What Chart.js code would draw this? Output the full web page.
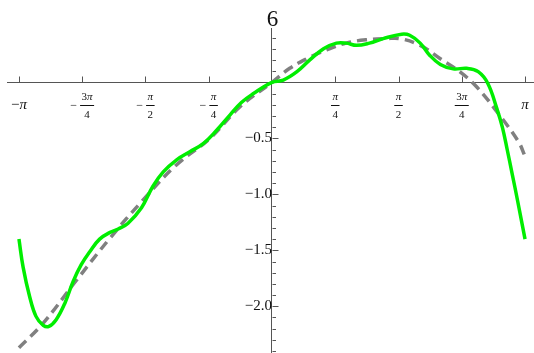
<!DOCTYPE html>
<html><head><meta charset="utf-8">
<script src="https://cdn.jsdelivr.net/npm/chart.js@4/dist/chart.umd.min.js"></script>
<style>html,body{margin:0;padding:0;background:#fff}#c{display:block}</style>
</head><body>
<canvas id="c" width="534" height="353"></canvas>
<script>
// ---- data ----
const greenX = [-3.1416, -3.09, -3.01, -2.93, -2.84, -2.77, -2.68, -2.57, -2.47, -2.37, -2.26, -2.14, -2.01, -1.91, -1.79, -1.62, -1.48, -1.35, -1.18, -1.02, -0.85, -0.69, -0.52, -0.38, -0.23, 0, 0.14, 0.31, 0.47, 0.64, 0.80, 0.92, 1.05, 1.21, 1.38, 1.61, 1.71, 1.84, 1.96, 2.09, 2.25, 2.42, 2.56, 2.68, 2.79, 2.86, 2.92, 2.98, 3.05, 3.1416];
const greenY = [-1.40, -1.65, -1.91, -2.09, -2.17, -2.18, -2.12, -1.97, -1.78, -1.63, -1.51, -1.40, -1.34, -1.31, -1.26, -1.12, -0.93, -0.80, -0.69, -0.62, -0.545, -0.43, -0.29, -0.18, -0.10, 0, 0.02, 0.095, 0.20, 0.30, 0.35, 0.35, 0.33, 0.35, 0.39, 0.43, 0.42, 0.35, 0.24, 0.16, 0.12, 0.125, 0.095, -0.01, -0.23, -0.40, -0.60, -0.81, -1.06, -1.40];
const dashX = [-3.1416, -2.84, -2.43, -2.01, -1.60, -1.19, -0.77, -0.40, 0, 0.22, 0.43, 0.68, 0.92, 1.17, 1.42, 1.59, 1.84, 2.09, 2.33, 2.54, 2.79, 3.06, 3.1416];
const dashY = [-2.37, -2.15, -1.77, -1.39, -1.05, -0.74, -0.50, -0.22, 0, 0.125, 0.21, 0.29, 0.35, 0.38, 0.39, 0.39, 0.33, 0.21, 0.095, -0.04, -0.26, -0.53, -0.66];

// x ticks as multiples of pi, with fraction labels
const xTickMultiples = [-1, -0.75, -0.5, -0.25, 0.25, 0.5, 0.75, 1];
const xTickLabels = [
  {sign: '−', num: '', den: ''}, {sign: '−', num: '3', den: '4'}, {sign: '−', num: '', den: '2'}, {sign: '−', num: '', den: '4'},
  {sign: '', num: '', den: '4'}, {sign: '', num: '', den: '2'}, {sign: '', num: '3', den: '4'}, {sign: '', num: '', den: ''}
];
const yTickValues = [-2.0, -1.5, -1.0, -0.5];
const yTickLabels = ['−2.0', '−1.5', '−1.0', '−0.5'];
const yMinorValues = [-2.4, -2.3, -2.2, -2.1, -1.9, -1.8, -1.7, -1.6, -1.4, -1.3, -1.2, -1.1, -0.9, -0.8, -0.7, -0.6, -0.4, -0.3, -0.2, -0.1, 0.1, 0.2, 0.3, 0.4];
const plotLabel = '6';

const SERIF = '"Liberation Serif", "DejaVu Serif", serif';
const AXIS = '#555';
const TEXT = '#111';

function drawPi(ctx, pre, x, base, size, align) {
  // draws pre (upright) followed by italic π
  ctx.font = size + 'px ' + SERIF;
  const w1 = ctx.measureText(pre).width;
  ctx.font = 'italic ' + size + 'px ' + SERIF;
  const w2 = ctx.measureText('π').width;
  const total = w1 + w2;
  let sx = align === 'center' ? x - total / 2 : x;
  ctx.textAlign = 'left';
  ctx.textBaseline = 'alphabetic';
  ctx.font = size + 'px ' + SERIF;
  ctx.fillText(pre, sx, base);
  ctx.font = 'italic ' + size + 'px ' + SERIF;
  ctx.fillText('π', sx + w1, base);
  return total;
}
function widthPi(ctx, pre, size) {
  ctx.font = size + 'px ' + SERIF;
  const w1 = ctx.measureText(pre).width;
  ctx.font = 'italic ' + size + 'px ' + SERIF;
  return w1 + ctx.measureText('π').width;
}

const axisDecor = {
  id: 'axisDecor',
  afterDraw(chart) {
    const {ctx, scales: {x, y}} = chart;
    const x0 = Math.round(x.getPixelForValue(0)) + 0.5;
    const y0 = Math.round(y.getPixelForValue(0)) + 0.5;
    ctx.save();
    ctx.strokeStyle = AXIS;
    ctx.lineWidth = 1;
    ctx.beginPath();
    xTickMultiples.forEach(m => {
      const px = Math.round(x.getPixelForValue(m * Math.PI)) + 0.5;
      ctx.moveTo(px, y0); ctx.lineTo(px, y0 - 6);
    });
    yTickValues.forEach(v => {
      const py = Math.round(y.getPixelForValue(v)) + 0.5;
      ctx.moveTo(x0, py); ctx.lineTo(x0 + 6, py);
    });
    yMinorValues.forEach(v => {
      const py = Math.round(y.getPixelForValue(v)) + 0.5;
      ctx.moveTo(x0, py); ctx.lineTo(x0 + 3.5, py);
    });
    ctx.stroke();

    // x tick labels
    ctx.fillStyle = TEXT;
    ctx.strokeStyle = TEXT;
    xTickMultiples.forEach((m, i) => {
      const lab = xTickLabels[i];
      const px = x.getPixelForValue(m * Math.PI);
      if (!lab.den) {
        drawPi(ctx, lab.sign, px, 109, 15, 'center');
        return;
      }
      const fs = 11;
      const nw = widthPi(ctx, lab.num, fs);
      ctx.font = fs + 'px ' + SERIF;
      const dw = ctx.measureText(lab.den).width;
      const fw = Math.max(nw, dw) + 3;
      let mw = 0, gap = 0;
      if (lab.sign) {
        ctx.font = '12px ' + SERIF;
        mw = ctx.measureText(lab.sign).width; gap = 3;
      }
      const total = mw + gap + fw;
      const sx = px - total / 2;
      if (lab.sign) {
        ctx.font = '12px ' + SERIF;
        ctx.textAlign = 'left'; ctx.textBaseline = 'alphabetic';
        ctx.fillText(lab.sign, sx, 109);
      }
      const fx = sx + mw + gap;
      const cx = fx + fw / 2;
      drawPi(ctx, lab.num, cx, 100, fs, 'center');
      ctx.beginPath();
      ctx.lineWidth = 1;
      ctx.moveTo(fx, 105.5); ctx.lineTo(fx + fw, 105.5);
      ctx.stroke();
      ctx.font = fs + 'px ' + SERIF;
      ctx.textAlign = 'center'; ctx.textBaseline = 'alphabetic';
      ctx.fillText(lab.den, cx, 118);
    });

    // plot label
    ctx.font = '23px ' + SERIF;
    ctx.textAlign = 'center'; ctx.textBaseline = 'alphabetic';
    ctx.fillText(plotLabel, x0, 26);
    ctx.restore();
  }
};

const zeroPad = s => { s.paddingTop = 0; s.paddingBottom = 0; s.paddingLeft = 0; s.paddingRight = 0; };

new Chart(document.getElementById('c'), {
  type: 'scatter',
  data: {
    datasets: [
      {
        label: 'green',
        data: greenX.map((v, i) => ({x: v, y: greenY[i]})),
        showLine: true, borderColor: '#00ee00', borderWidth: 3.5,
        pointRadius: 0, pointHoverRadius: 0, tension: 0.4, fill: false
      },
      {
        label: 'gray',
        data: dashX.map((v, i) => ({x: v, y: dashY[i]})),
        showLine: true, borderColor: '#808080', borderWidth: 3.5,
        borderDash: [10, 6], borderCapStyle: 'butt',
        pointRadius: 0, pointHoverRadius: 0, tension: 0.4, fill: false
      }
    ]
  },
  options: {
    responsive: false,
    animation: false,
    devicePixelRatio: 1,
    layout: {padding: {left: 7, top: 28, right: 0, bottom: 0}},
    plugins: {legend: {display: false}, tooltip: {enabled: false}, title: {display: false}},
    scales: {
      x: {
        type: 'linear', position: {y: 0}, min: -3.29, max: 3.253,
        grid: {display: false}, border: {display: true, color: AXIS, width: 1},
        ticks: {display: false}, afterFit: zeroPad
      },
      y: {
        type: 'linear', position: {x: 0}, min: -2.417, max: 0.485,
        grid: {display: false}, border: {display: true, color: AXIS, width: 1},
        afterBuildTicks: s => { s.ticks = yTickValues.map(v => ({value: v})); },
        ticks: {
          padding: 6, color: TEXT,
          font: {family: SERIF, size: 15},
          callback: (v, i) => yTickLabels[i]
        },
        afterFit: zeroPad
      }
    }
  },
  plugins: [axisDecor]
});
</script>
</body></html>
